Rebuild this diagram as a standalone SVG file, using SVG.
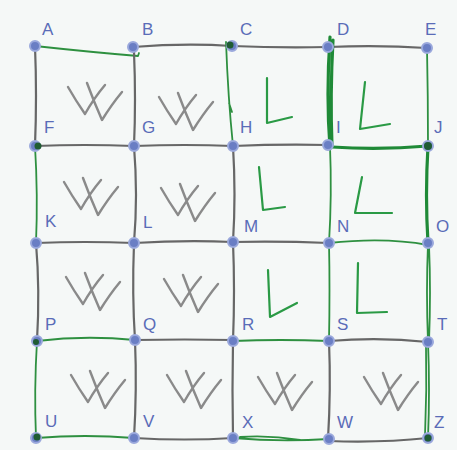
<svg xmlns="http://www.w3.org/2000/svg" width="457" height="450" viewBox="0 0 457 450">
<style>
.gy{fill:none;stroke:#676767;stroke-width:2.2;stroke-linecap:round;stroke-linejoin:round}
.gn{fill:none;stroke:#2e9040;stroke-width:1.8;stroke-linecap:round;stroke-linejoin:round}
.gt{fill:none;stroke:#1f8a37;stroke-width:3.2;stroke-linecap:round;stroke-linejoin:round}
.sy{fill:none;stroke:#8a8a8a;stroke-width:2.4;stroke-linecap:round;stroke-linejoin:round}
.sl{fill:none;stroke:#2a9a45;stroke-width:2.2;stroke-linecap:round;stroke-linejoin:round}
.dot{fill:#6a7ec4;stroke:#9aa8dc;stroke-width:2}
.dk{fill:#1f5c33}
.lb{font-family:"Liberation Sans",Arial,sans-serif;font-size:17px;fill:#5a6cb8}
</style>
<defs>
<g id="w"><path class="sy" d="M1,5 Q9,19 18,32 Q27,16 38,3 M20,1 Q27,20 35,38 Q45,22 55,10"/></g>
</defs>
<rect width="457" height="450" fill="#f5f8f7"/>
<g id="connectors">
<path class="gn" d="M35,46 Q90,52 138,56 L139,53"/>
<path class="gy" d="M133,47 Q185,43 232,46"/>
<path class="gy" d="M232,46 Q280,48 328,47"/>
<path class="gy" d="M328,47 Q380,45 427,48"/>
<path class="gy" d="M35,146 Q85,144 134,146"/>
<path class="gy" d="M134,146 Q185,144 233,146"/>
<path class="gy" d="M233,146 Q280,144 328,145"/>
<path class="gt" d="M332,147 Q380,150 428,146"/>
<path class="gy" d="M36,243 Q85,241 134,243"/>
<path class="gy" d="M134,243 Q185,240 233,242"/>
<path class="gy" d="M233,242 Q280,241 329,243"/>
<path class="gn" d="M329,243 Q385,237 428,245"/>
<path class="gn" d="M37,341 Q85,335 135,340"/>
<path class="gy" d="M135,340 Q185,339 233,340"/>
<path class="gn" d="M233,341 Q280,339 329,341"/>
<path class="gy" d="M329,341 Q380,337 428,342"/>
<path class="gn" d="M36,438 Q85,434 134,438"/>
<path class="gy" d="M134,438 Q185,441 233,438"/>
<path class="gn" d="M233,438 Q280,442 329,439 M240,437 Q270,435 300,440"/>
<path class="gy" d="M329,441 Q380,443 428,438"/>
<path class="gy" d="M35,46 Q37,96 35,146"/>
<path class="gn" d="M35,146 Q38,195 36,243"/>
<path class="gy" d="M36,243 Q40,290 37,341"/>
<path class="gn" d="M37,341 Q34,390 36,438"/>
<path class="gy" d="M134,52 Q136,100 134,146"/>
<path class="gy" d="M134,146 Q138,195 134,243"/>
<path class="gy" d="M134,243 Q132,295 135,340"/>
<path class="gy" d="M135,340 Q137,390 134,438"/>
<path class="gn" d="M226,42 Q228,97 233,146 M229,103 L232,112"/>
<path class="gy" d="M233,146 Q236,195 233,242"/>
<path class="gy" d="M233,242 Q235,290 233,341"/>
<path class="gy" d="M233,341 Q232,390 233,438"/>
<path class="gt" d="M330,37 Q326,95 330,148 M333,40 Q330,95 332,146"/>
<path class="gn" d="M330,146 Q332,195 329,243"/>
<path class="gn" d="M329,243 Q330,290 329,341"/>
<path class="gy" d="M329,341 Q331,390 328,439"/>
<path class="gn" d="M427,48 Q428,97 428,146"/>
<path class="gt" d="M428,146 Q425,195 428,243"/>
<path class="gn" d="M428,243 Q426,292 428,342 M429,245 Q431,292 429,342"/>
<path class="gn" d="M428,342 Q430,390 428,438 M426,345 Q427,390 425,436"/>
</g>
<g id="symbols">
<use href="#w" x="67" y="82"/>
<use href="#w" x="158" y="92"/>
<use href="#w" x="63" y="177"/>
<use href="#w" x="160" y="183"/>
<use href="#w" x="65" y="272"/>
<use href="#w" x="163" y="274"/>
<use href="#w" x="70" y="370"/>
<use href="#w" x="166" y="370"/>
<use href="#w" x="257" y="372"/>
<use href="#w" x="363" y="372"/>
<path class="sl" d="M267,78 L267,123 L292,117"/>
<path class="sl" d="M365,82 L360,129 L390,124"/>
<path class="sl" d="M259,167 L263,210 L285,207"/>
<path class="sl" d="M362,177 L355,213 L392,213"/>
<path class="sl" d="M268,270 L270,317 L297,303"/>
<path class="sl" d="M358,263 L357,313 L387,312"/>
</g>
<g id="A"><circle class="dot" cx="35" cy="46" r="5"/><text class="lb" x="42" y="35">A</text></g>
<g id="B"><circle class="dot" cx="133" cy="47" r="5"/><text class="lb" x="142" y="35">B</text></g>
<g id="C"><circle class="dot" cx="232" cy="46" r="5"/><circle class="dk" cx="230" cy="45" r="3.5"/><text class="lb" x="240" y="35">C</text></g>
<g id="D"><circle class="dot" cx="328" cy="47" r="5"/><text class="lb" x="337" y="35">D</text></g>
<g id="E"><circle class="dot" cx="427" cy="48" r="5"/><text class="lb" x="425" y="35">E</text></g>
<g id="F"><circle class="dot" cx="35" cy="146" r="5"/><circle class="dk" cx="38" cy="146" r="3.5"/><text class="lb" x="44" y="133">F</text></g>
<g id="G"><circle class="dot" cx="134" cy="146" r="5"/><text class="lb" x="142" y="133">G</text></g>
<g id="H"><circle class="dot" cx="233" cy="146" r="5"/><text class="lb" x="240" y="133">H</text></g>
<g id="I"><circle class="dot" cx="328" cy="145" r="5"/><text class="lb" x="336" y="133">I</text></g>
<g id="J"><circle class="dot" cx="428" cy="146" r="5"/><circle class="dk" cx="428" cy="146" r="4"/><text class="lb" x="434" y="133">J</text></g>
<g id="K"><circle class="dot" cx="36" cy="243" r="5"/><text class="lb" x="45" y="227">K</text></g>
<g id="L"><circle class="dot" cx="134" cy="243" r="5"/><text class="lb" x="143" y="228">L</text></g>
<g id="M"><circle class="dot" cx="233" cy="242" r="5"/><text class="lb" x="244" y="232">M</text></g>
<g id="N"><circle class="dot" cx="329" cy="243" r="5"/><text class="lb" x="337" y="232">N</text></g>
<g id="O"><circle class="dot" cx="428" cy="243" r="5"/><text class="lb" x="436" y="232">O</text></g>
<g id="P"><circle class="dot" cx="37" cy="341" r="5"/><circle class="dk" cx="36" cy="342" r="3"/><text class="lb" x="45" y="330">P</text></g>
<g id="Q"><circle class="dot" cx="135" cy="340" r="5"/><text class="lb" x="143" y="330">Q</text></g>
<g id="R"><circle class="dot" cx="233" cy="341" r="5"/><text class="lb" x="242" y="330">R</text></g>
<g id="S"><circle class="dot" cx="329" cy="341" r="5"/><text class="lb" x="337" y="330">S</text></g>
<g id="T"><circle class="dot" cx="428" cy="342" r="5"/><text class="lb" x="437" y="330">T</text></g>
<g id="U"><circle class="dot" cx="36" cy="438" r="5"/><circle class="dk" cx="37" cy="437" r="3.5"/><text class="lb" x="45" y="427">U</text></g>
<g id="V"><circle class="dot" cx="134" cy="438" r="5"/><text class="lb" x="143" y="427">V</text></g>
<g id="X"><circle class="dot" cx="233" cy="438" r="5"/><text class="lb" x="242" y="428">X</text></g>
<g id="W"><circle class="dot" cx="329" cy="439" r="5"/><text class="lb" x="337" y="428">W</text></g>
<g id="Z"><circle class="dot" cx="428" cy="438" r="5"/><circle class="dk" cx="428" cy="438" r="3.5"/><text class="lb" x="434" y="428">Z</text></g>
</svg>
